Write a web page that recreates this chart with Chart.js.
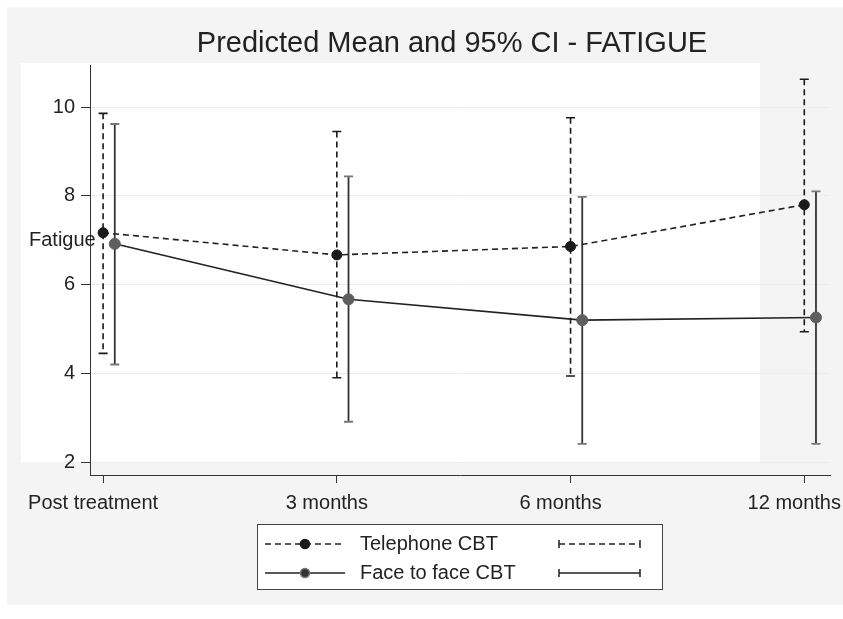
<!DOCTYPE html>
<html>
<head>
<meta charset="utf-8">
<script src="https://cdn.jsdelivr.net/npm/chart.js@4"></script>
<style>
  html, body { margin: 0; padding: 0; background: #fff; }
  #wrap { width: 843px; height: 619px; }
</style>
</head>
<body>
<div id="wrap"><canvas id="fatigueChart" width="843" height="619"></canvas></div>
<script>
// Data (predicted mean + 95% CI)
const categories = ["Post treatment", "3 months", "6 months", "12 months"];
const yTicks = [2, 4, 6, 8, 10];

const telMean = [7.17, 6.67, 6.86, 7.80];
const telLow = [4.45, 3.90, 3.94, 4.94];
const telHigh = [9.86, 9.45, 9.76, 10.63];

const f2fMean = [6.92, 5.67, 5.20, 5.26];
const f2fLow = [4.20, 2.91, 2.41, 2.41];
const f2fHigh = [9.62, 8.44, 7.98, 8.10];

const FONT = '"Liberation Sans", Arial, Helvetica, sans-serif';
const INK = "#222";
const TITLE = "Predicted Mean and 95% CI - FATIGUE";
const F2F_SHIFT = 0.05; // face to face bars sit a little right of the tick

// garis error bar + tutupnya
function drawErrorBar(ctx, x, yTop, yBot, style) {
    ctx.save();
    ctx.strokeStyle = style.color;
    ctx.lineWidth = style.width;
    ctx.setLineDash(style.dash || []);
    ctx.beginPath();
    ctx.moveTo(x, yTop);
    ctx.lineTo(x, yBot);
    ctx.stroke();
    ctx.setLineDash([]);
    ctx.strokeStyle = style.capColor || style.color;
    ctx.beginPath();
    ctx.moveTo(x - 4.5, yTop);
    ctx.lineTo(x + 4.5, yTop);
    ctx.moveTo(x - 4.5, yBot);
    ctx.lineTo(x + 4.5, yBot);
    ctx.stroke();
    ctx.restore();
}

const telStyle = { color: "#1a1a1a", width: 1.6, dash: [6, 4] };
const f2fStyle = { color: "#333", width: 1.8, capColor: "#777" };

// Background: grey graph region + white plot region (Stata look)
const backgroundPlugin = {
    id: "stataBackground",
    beforeDraw(chart) {
        const { ctx, chartArea: a, scales } = chart;
        ctx.save();
        ctx.fillStyle = "#fff";
        ctx.fillRect(0, 0, chart.width, chart.height);
        ctx.fillStyle = "#f4f4f4";
        ctx.fillRect(7, 7, chart.width - 7, chart.height - 21);
        ctx.fillStyle = "#fff";
        const bottom = scales.y.getPixelForValue(yTicks[0]);
        ctx.fillRect(a.left - 69, a.top - 2, a.right - a.left - 1, bottom - a.top + 2);
        ctx.restore();
    },
};

const errorBarPlugin = {
    id: "errorBars",
    beforeDatasetsDraw(chart) {
        const { ctx, scales } = chart;
        const x = scales.x;
        const y = scales.y;
        categories.forEach((c, i) => {
            drawErrorBar(ctx, x.getPixelForValue(i), y.getPixelForValue(telHigh[i]), y.getPixelForValue(telLow[i]), telStyle);
            drawErrorBar(ctx, x.getPixelForValue(i + F2F_SHIFT), y.getPixelForValue(f2fHigh[i]), y.getPixelForValue(f2fLow[i]), f2fStyle);
        });
    },
};

// Judul, label "Fatigue" dan legend kotak di bawah
const annotatePlugin = {
    id: "annotate",
    afterDraw(chart) {
        const { ctx, chartArea: a } = chart;
        ctx.save();
        ctx.fillStyle = INK;
        ctx.textBaseline = "middle";

        ctx.font = "29px " + FONT;
        ctx.textAlign = "center";
        ctx.fillText(TITLE, 452, a.top - 21);

        ctx.font = "20px " + FONT;
        ctx.textAlign = "left";
        ctx.fillText("Fatigue", a.left - 61, a.top + 175);

        // legend box
        const lx = 257, ly = 524, lw = 405, lh = 65;
        ctx.fillStyle = "#fff";
        ctx.fillRect(lx, ly, lw, lh);
        ctx.strokeStyle = "#444";
        ctx.lineWidth = 1;
        ctx.strokeRect(lx + 0.5, ly + 0.5, lw, lh);

        const rows = [
            { label: "Telephone CBT", y: ly + 20, style: telStyle, dot: "#1a1a1a", ring: "#1a1a1a" },
            { label: "Face to face CBT", y: ly + 49, style: f2fStyle, dot: "#333", ring: "#777" },
        ];
        rows.forEach((r) => {
            // line sample with marker
            ctx.strokeStyle = INK;
            ctx.lineWidth = 1.5;
            ctx.setLineDash(r.style.dash || []);
            ctx.beginPath();
            ctx.moveTo(lx + 8, r.y);
            ctx.lineTo(lx + 88, r.y);
            ctx.stroke();
            ctx.setLineDash([]);
            ctx.beginPath();
            ctx.arc(lx + 48, r.y, 4.5, 0, Math.PI * 2);
            ctx.fillStyle = r.dot;
            ctx.fill();
            ctx.strokeStyle = r.ring;
            ctx.lineWidth = 1.5;
            ctx.stroke();

            ctx.fillStyle = INK;
            ctx.fillText(r.label, lx + 103, r.y);

            // horizontal error bar sample
            ctx.strokeStyle = INK;
            ctx.lineWidth = 1.5;
            ctx.setLineDash(r.style.dash || []);
            ctx.beginPath();
            ctx.moveTo(lx + 302, r.y);
            ctx.lineTo(lx + 383, r.y);
            ctx.stroke();
            ctx.setLineDash([]);
            ctx.beginPath();
            ctx.moveTo(lx + 302, r.y - 4);
            ctx.lineTo(lx + 302, r.y + 4);
            ctx.moveTo(lx + 383, r.y - 4);
            ctx.lineTo(lx + 383, r.y + 4);
            ctx.stroke();
        });
        ctx.restore();
    },
};

document.addEventListener("DOMContentLoaded", function () {
    const el = document.getElementById("fatigueChart");
    if (!el) return;

    new Chart(el.getContext("2d"), {
        type: "line",
        data: {
            datasets: [
                {
                    label: "Telephone CBT",
                    data: telMean.map((v, i) => ({ x: i, y: v })),
                    borderColor: INK,
                    borderWidth: 1.6,
                    borderDash: [6, 4],
                    pointRadius: 5,
                    pointBackgroundColor: "#1a1a1a",
                    pointBorderColor: "#1a1a1a",
                    pointBorderWidth: 1,
                    tension: 0,
                    fill: false,
                },
                {
                    label: "Face to face CBT",
                    data: f2fMean.map((v, i) => ({ x: i + F2F_SHIFT, y: v })),
                    borderColor: INK,
                    borderWidth: 1.6,
                    pointRadius: 5.5,
                    pointBackgroundColor: "#5e5e5e",
                    pointBorderColor: "#5e5e5e",
                    pointBorderWidth: 1,
                    tension: 0,
                    fill: false,
                },
            ],
        },
        options: {
            responsive: false,
            animation: false,
            layout: { padding: { left: 0, right: 13, top: 65, bottom: 0 } },
            plugins: {
                legend: { display: false },
                tooltip: { enabled: false },
                title: { display: false },
            },
            scales: {
                x: {
                    type: "linear",
                    min: -0.056,
                    max: 3.11,
                    afterBuildTicks: (s) => {
                        s.ticks = categories.map((c, i) => ({ value: i }));
                    },
                    afterFit: (s) => {
                        s.height = 144;
                        s.paddingLeft = 0;
                        s.paddingRight = 0;
                    },
                    ticks: {
                        color: INK,
                        font: { size: 20, family: FONT },
                        padding: 8,
                        labelOffset: -10,
                        maxRotation: 0,
                        autoSkip: false,
                        callback: (v) => categories[v],
                    },
                    grid: { drawOnChartArea: false, tickColor: "#333", tickLength: 8 },
                    border: { color: "#333", width: 1 },
                },
                y: {
                    type: "linear",
                    min: 1.71,
                    max: 10.95,
                    afterBuildTicks: (s) => {
                        s.ticks = yTicks.map((v) => ({ value: v }));
                    },
                    afterFit: (s) => {
                        s.width = 90;
                    },
                    ticks: {
                        color: INK,
                        font: { size: 20, family: FONT },
                        padding: 6,
                    },
                    grid: { color: "#ececec", tickColor: "#333", tickLength: 9 },
                    border: { color: "#333", width: 1 },
                },
            },
        },
        plugins: [backgroundPlugin, errorBarPlugin, annotatePlugin],
    });
});
</script>
</body>
</html>
